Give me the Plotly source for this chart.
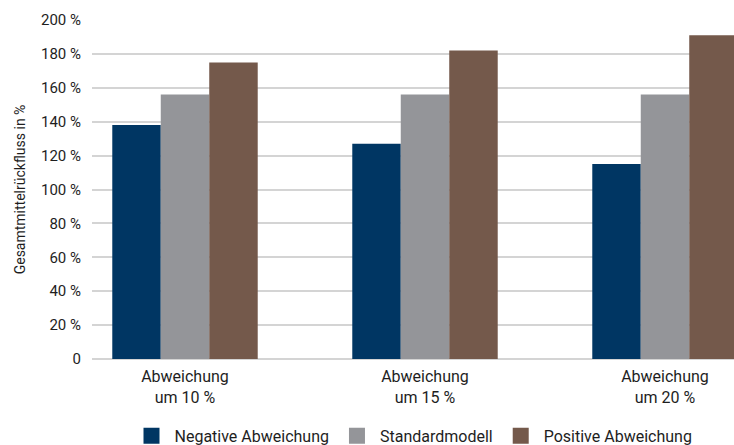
import plotly.graph_objects as go

categories = ["Abweichung<br>um 10 %", "Abweichung<br>um 15 %", "Abweichung<br>um 20 %"]
negative = [138, 127, 115]
standard = [156, 156, 156]
positive = [175, 182, 191]
series_names = ["Negative Abweichung", "Standardmodell", "Positive Abweichung"]
colors = ["#003663", "#949599", "#74594b"]
ytick_vals = [0, 20, 40, 60, 80, 100, 120, 140, 160, 180, 200]
ytick_text = ["0"] + [f"{v} %" for v in ytick_vals[1:]]

FONT = "Roboto, sans-serif"
TXT = "#1e1e1e"

fig = go.Figure()
for name, vals, c in zip(series_names, [negative, standard, positive], colors):
    fig.add_trace(go.Bar(x=categories, y=vals, name=name, showlegend=False,
                         marker=dict(color=c, line=dict(width=0))))
# legend entries with larger square swatches
for name, c in zip(series_names, colors):
    fig.add_trace(go.Scatter(x=[None], y=[None], mode="markers", name=name,
                             marker=dict(symbol="square", size=16, color=c)))

fig.update_layout(
    width=734, height=445,
    margin=dict(l=92, r=0, t=20, b=86, autoexpand=False),
    paper_bgcolor="white", plot_bgcolor="white",
    barmode="group", bargap=0.394, bargroupgap=0,
    font=dict(family=FONT, size=15, color=TXT),
    showlegend=True,
    legend=dict(orientation="h", x=0.5, xanchor="center", y=-0.227, yanchor="middle",
                font=dict(size=16, color=TXT), itemwidth=36, itemsizing="trace",
                tracegroupgap=0),
    xaxis=dict(range=[-0.3875, 2.2875], showgrid=False, showline=False, ticks="",
               tickfont=dict(size=16), ticklabelstandoff=6, fixedrange=True),
    yaxis=dict(range=[0, 200], tickvals=ytick_vals, ticktext=ytick_text,
               showgrid=True, gridcolor="#d4d4d4", gridwidth=2, zeroline=True,
               zerolinecolor="#d4d4d4", zerolinewidth=2, showline=False, ticks="",
               ticklabelstandoff=10, tickfont=dict(size=15),
               title=dict(text="Gesamtmittelrückfluss in %", font=dict(size=14), standoff=12)),
)

fig.write_html("out.html")
